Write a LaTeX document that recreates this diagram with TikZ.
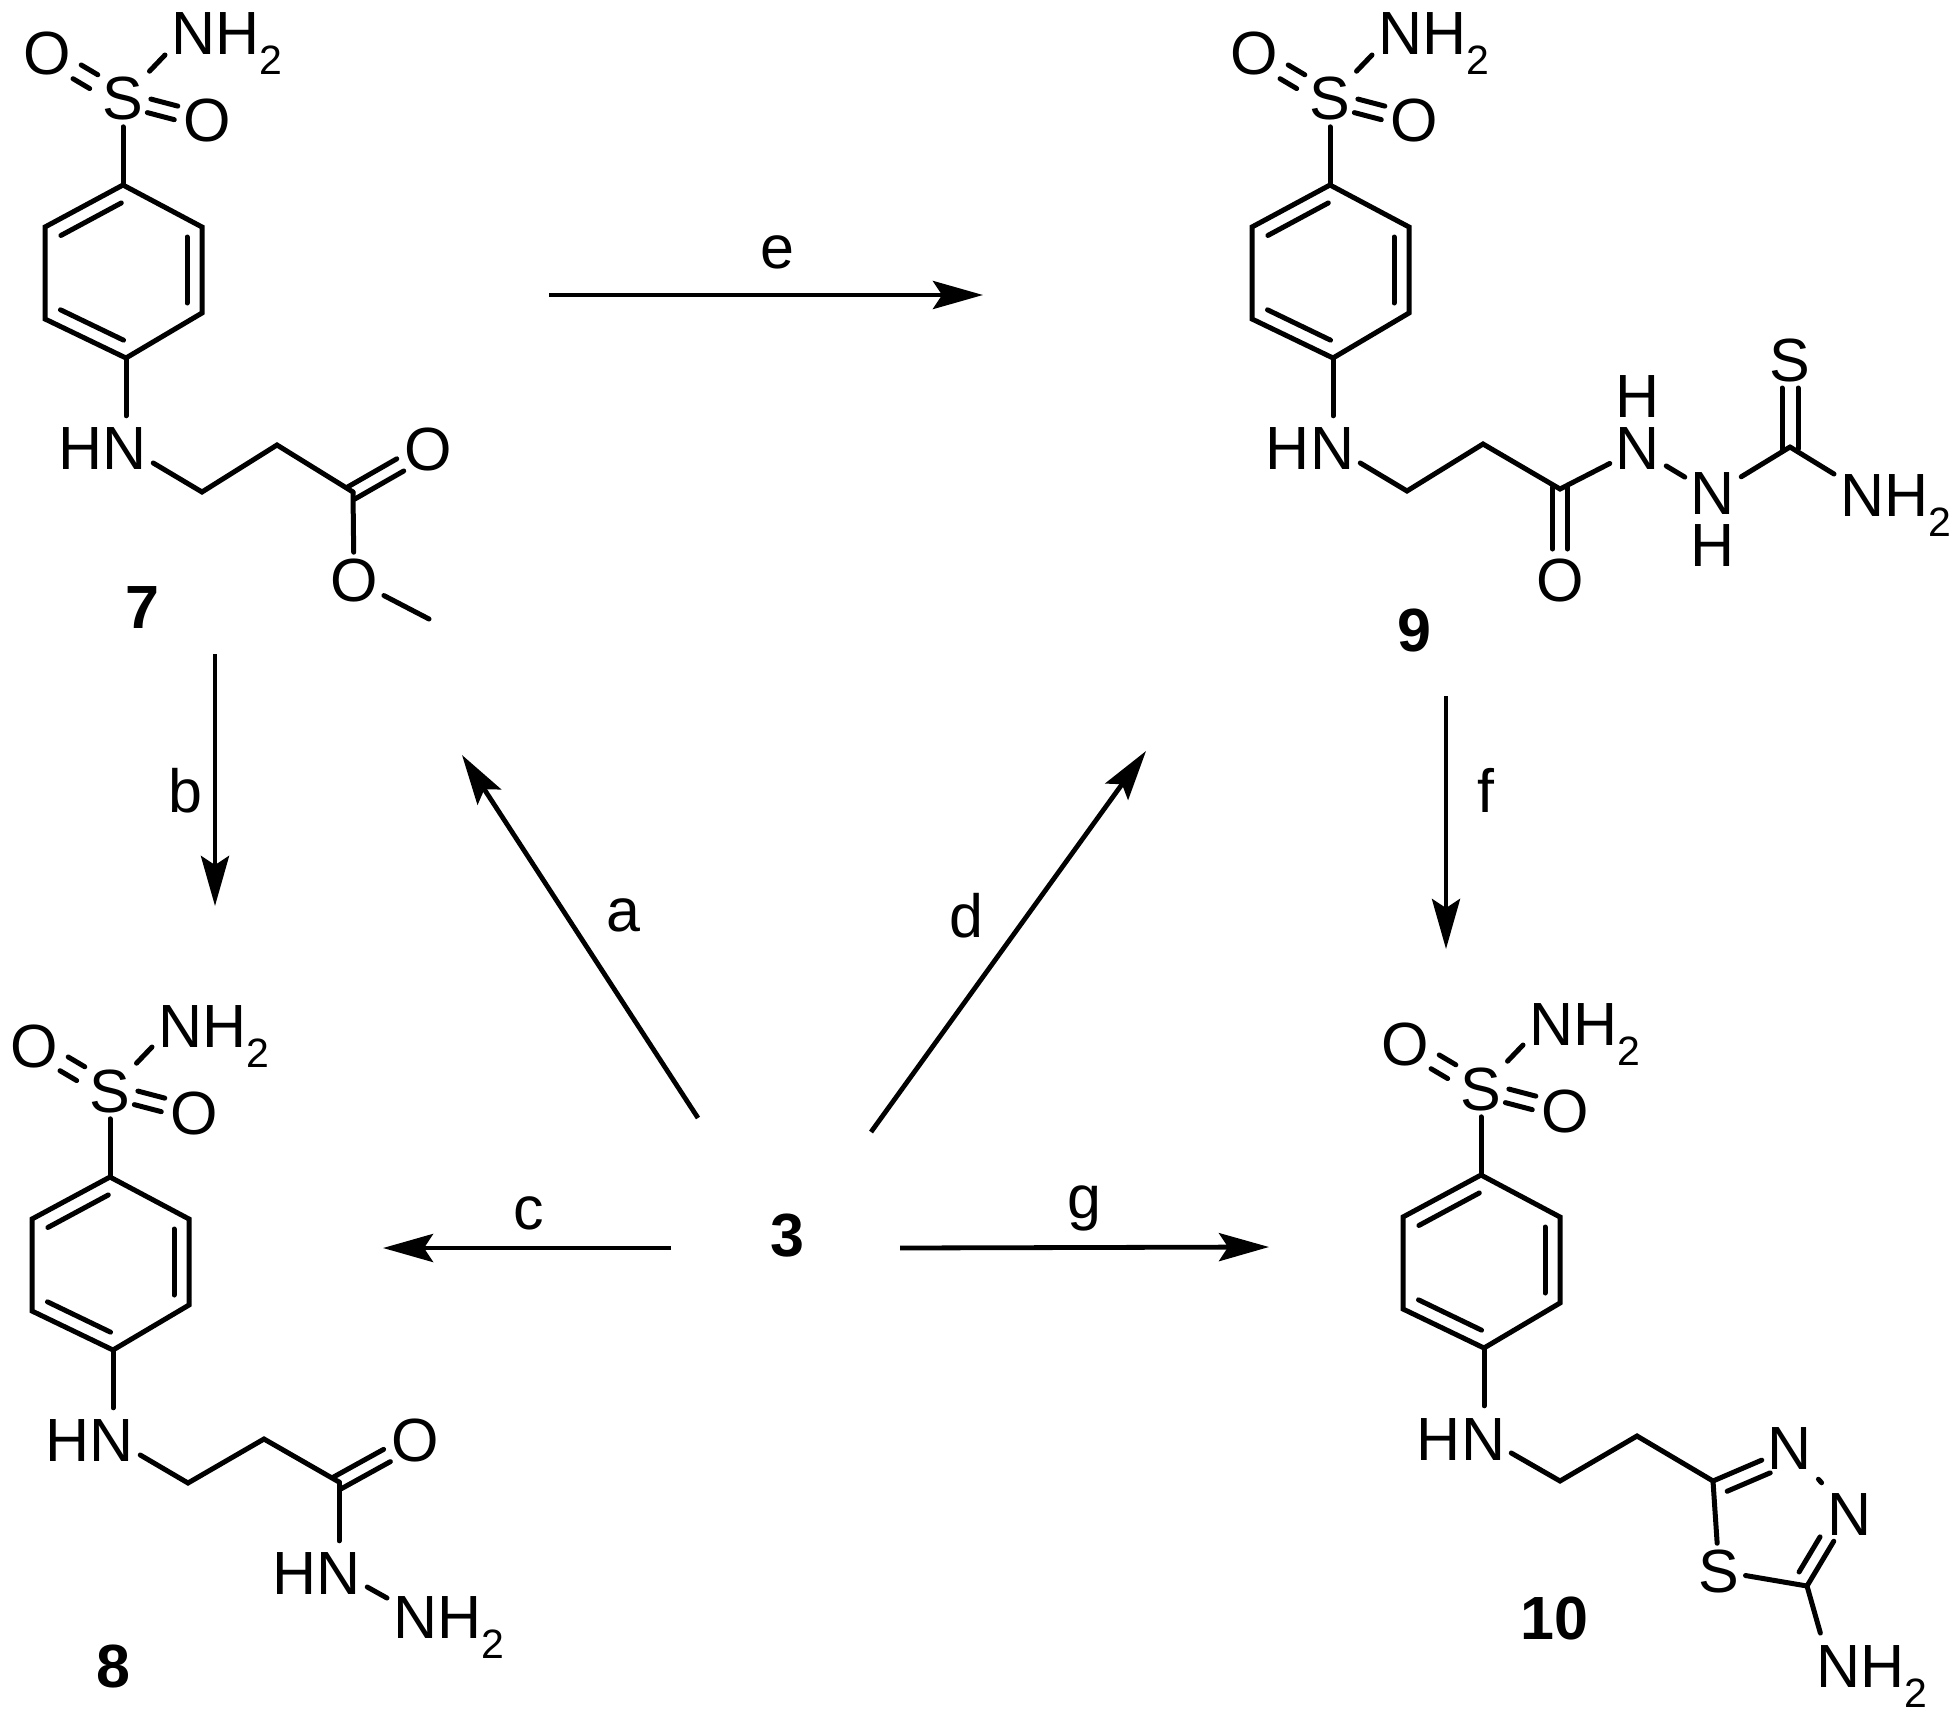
\documentclass[tikz,border=0pt]{standalone}
\usepackage{fontspec}
\setmainfont{Liberation Sans}
\usetikzlibrary{calc,arrows.meta}
\newcommand\subtwo{\smash{\raisebox{-20pt}{\fontsize{41}{41}\selectfont 2}}}
\tikzset{
	bond/.style={line width=5pt,line cap=round},
	atom/.style={inner sep=6pt,font=\fontsize{61}{61}\selectfont},
	amine/.style={atom,anchor=base west},
	cmpd/.style={inner sep=0pt,font=\fontsize{61}{61}\selectfont\bfseries},
	rxnlabel/.style={inner sep=0pt,font=\fontsize{61}{61}\selectfont},
	rxn/.style={line width=4.8pt,-{Stealth[length=50pt,width=28pt,inset=9pt]}}
}
\def\offbond[#1](#2)(#3)(#4){\draw[bond,#1] ($(#2)!#4!90:(#3)$) -- ($(#3)!#4!-90:(#2)$);}
\def\dblbond[#1](#2)(#3)(#4){\offbond[#1](#2)(#3)(#4)\offbond[#1](#2)(#3)(-#4)}
\def\sulfahead[#1](#2,#3){
	\begin{scope}[shift={(#2,#3)}]
		\node[atom] (s#1) at (0,0) {S};
		\node[atom] (ol#1) at (-76,-45) {O};
		\node[atom] (or#1) at (84,22) {O};
		\node[amine] (nh#1) at (42,-44) {NH\subtwo};
		\node[atom] (hn#1) at (-20,350) {HN};
		\coordinate (a#1) at (0,86);
		\coordinate (b#1) at (-78,128);
		\coordinate (c#1) at (-78,220);
		\coordinate (d#1) at (3,259);
		\coordinate (e#1) at (79,214);
		\coordinate (f#1) at (79,128);
		\draw[bond,line cap=butt] (a#1) -- (b#1) -- (c#1) -- (d#1) -- (e#1) -- (f#1) -- cycle;
		\offbond[shorten <=10pt,shorten >=10pt](a#1)(b#1)(15pt)
		\offbond[shorten <=10pt,shorten >=10pt](c#1)(d#1)(15pt)
		\offbond[shorten <=10pt,shorten >=10pt](e#1)(f#1)(15pt)
		\draw[bond] (s#1) -- (a#1);
		\draw[bond] (s#1) -- (nh#1.base west);
		\dblbond[shorten <=34pt,shorten >=35pt](s#1)(ol#1)(8pt)
		\dblbond[shorten <=27pt,shorten >=32pt](s#1)(or#1)(7pt)
		\draw[bond,shorten >=6pt] (d#1) -- (d#1 |- hn#1.north);
	\end{scope}
}

\begin{document}
\begin{tikzpicture}[x=1pt,y=-1pt]
	\useasboundingbox (0,0) rectangle (1959,1723);
	%%%%% compound 7 %%%%%
	\sulfahead[7](123,99)
	\node[atom] (o7) at (428,449) {O};
	\node[atom] (om7) at (354,580) {O};
	\coordinate (p7) at (202,492);
	\coordinate (q7) at (277,445);
	\coordinate (r7) at (353,492);
	\coordinate (me7) at (429,619);
	\draw[bond] ([yshift=-14pt]hn7.east) -- (p7) -- (q7) -- (r7);
	\dblbond[shorten <=-2pt,shorten >=32pt](r7)(o7)(7pt)
	\draw[bond] (r7) -- (om7);
	\draw[bond] (om7) -- (me7);
	\node[cmpd] (lab7) at (142,608) {7};

	%%%%% compound 9 %%%%%
	\sulfahead[9](1330,99)
	\node[atom] (o9) at (1560,580) {O};
	\node[atom] (na9) at (1638,449) {N};
	\node[atom] (ha9) at (1638,397) {H};
	\node[atom] (nb9) at (1713,494) {N};
	\node[atom] (hb9) at (1713,546) {H};
	\node[atom] (th9) at (1790,360) {S};
	\node[amine] (nt9) at (1834,516) {NH\subtwo};
	\coordinate (p9) at (1407,491);
	\coordinate (q9) at (1483,444);
	\coordinate (r9) at (1560,489);
	\coordinate (t9) at (1790,447);
	\draw[bond] ([yshift=-14pt]hn9.east) -- (p9) -- (q9) -- (r9) -- (na9);
	\dblbond[shorten <=-2pt,shorten >=31pt](r9)(o9)(7.5pt)
	\draw[bond] (na9) -- (nb9);
	\draw[bond] (nb9) -- (t9);
	\dblbond[shorten <=-2pt,shorten >=28pt](t9)(th9)(8pt)
	\draw[bond] (t9) -- ([yshift=21pt]nt9.west);
	\node[cmpd] (lab9) at (1414,630) {9};

	%%%%% compound 8 %%%%%
	\sulfahead[8](110,1091)
	\node[atom] (o8) at (415,1440) {O};
	\node[atom] (hz8) at (317,1573) {HN};
	\node[amine] (nz8) at (387,1638) {NH\subtwo};
	\coordinate (p8) at (188,1483);
	\coordinate (q8) at (264,1439);
	\coordinate (r8) at (339,1482);
	\draw[bond] ([yshift=-14pt]hn8.east) -- (p8) -- (q8) -- (r8);
	\dblbond[shorten <=-2pt,shorten >=32pt](r8)(o8)(7pt)
	\draw[bond,shorten >=5pt] (r8) -- (r8 |- hz8.north);
	\draw[bond] ([yshift=-14pt]hz8.east) -- ([yshift=19pt]nz8.west);
	\node[cmpd] (lab8) at (113,1666) {8};

	%%%%% compound 10 %%%%%
	\sulfahead[10](1481,1089)
	\node[atom] (na10) at (1790,1448) {N};
	\node[atom] (nb10) at (1850,1514) {N};
	\node[atom] (st10) at (1719,1571) {S};
	\node[amine] (nt10) at (1810,1687) {NH\subtwo};
	\coordinate (p10) at (1560,1481);
	\coordinate (q10) at (1637,1436);
	\coordinate (r10) at (1713,1481);
	\coordinate (t10) at (1807,1586);
	\draw[bond] ([yshift=-14pt]hn10.east) -- (p10) -- (q10) -- (r10) -- (na10);
	\offbond[shorten <=9pt,shorten >=28pt](r10)(na10)(-15pt)
	\draw[bond,shorten <=5.5pt,shorten >=5.5pt] (na10) -- (nb10);
	\draw[bond] (nb10) -- (t10);
	\offbond[shorten <=8pt,shorten >=35pt](t10)(nb10)(14pt)
	\draw[bond] (t10) -- (st10);
	\draw[bond] (st10) -- (r10);
	\draw[bond,shorten >=6pt] (t10) -- ([xshift=12pt]nt10.north west);
	\node[cmpd] (lab10) at (1554,1618) {10};

	%%%%% arrows %%%%%
	\node[cmpd] (lab3) at (787,1236) {3};
	\coordinate (es) at (549,295);
	\coordinate (ee) at (983,295);
	\coordinate (bs) at (215,654);
	\coordinate (be) at (215,906);
	\coordinate (fs) at (1446,696);
	\coordinate (fe) at (1446,949);
	\coordinate (as) at (698,1118);
	\coordinate (ae) at (462,755);
	\coordinate (ds) at (871,1132);
	\coordinate (de) at (1146,751);
	\coordinate (cs) at (671,1248);
	\coordinate (ce) at (383,1248);
	\coordinate (gs) at (900,1248);
	\coordinate (ge) at (1269,1247);
	\foreach \arr in {e,b,f,a,d,c,g}
		\draw[rxn] (\arr s) -- (\arr e);
	\node[rxnlabel] (la) at (623,915) {a};
	\node[rxnlabel] (lb) at (185,791) {b};
	\node[rxnlabel] (lc) at (529,1213) {c};
	\node[rxnlabel] (ld) at (966,916) {d};
	\node[rxnlabel] (le) at (777,252) {e};
	\node[rxnlabel] (lf) at (1486,790) {f};
	\node[rxnlabel] (lg) at (1084,1208) {g};
\end{tikzpicture}
\end{document}
